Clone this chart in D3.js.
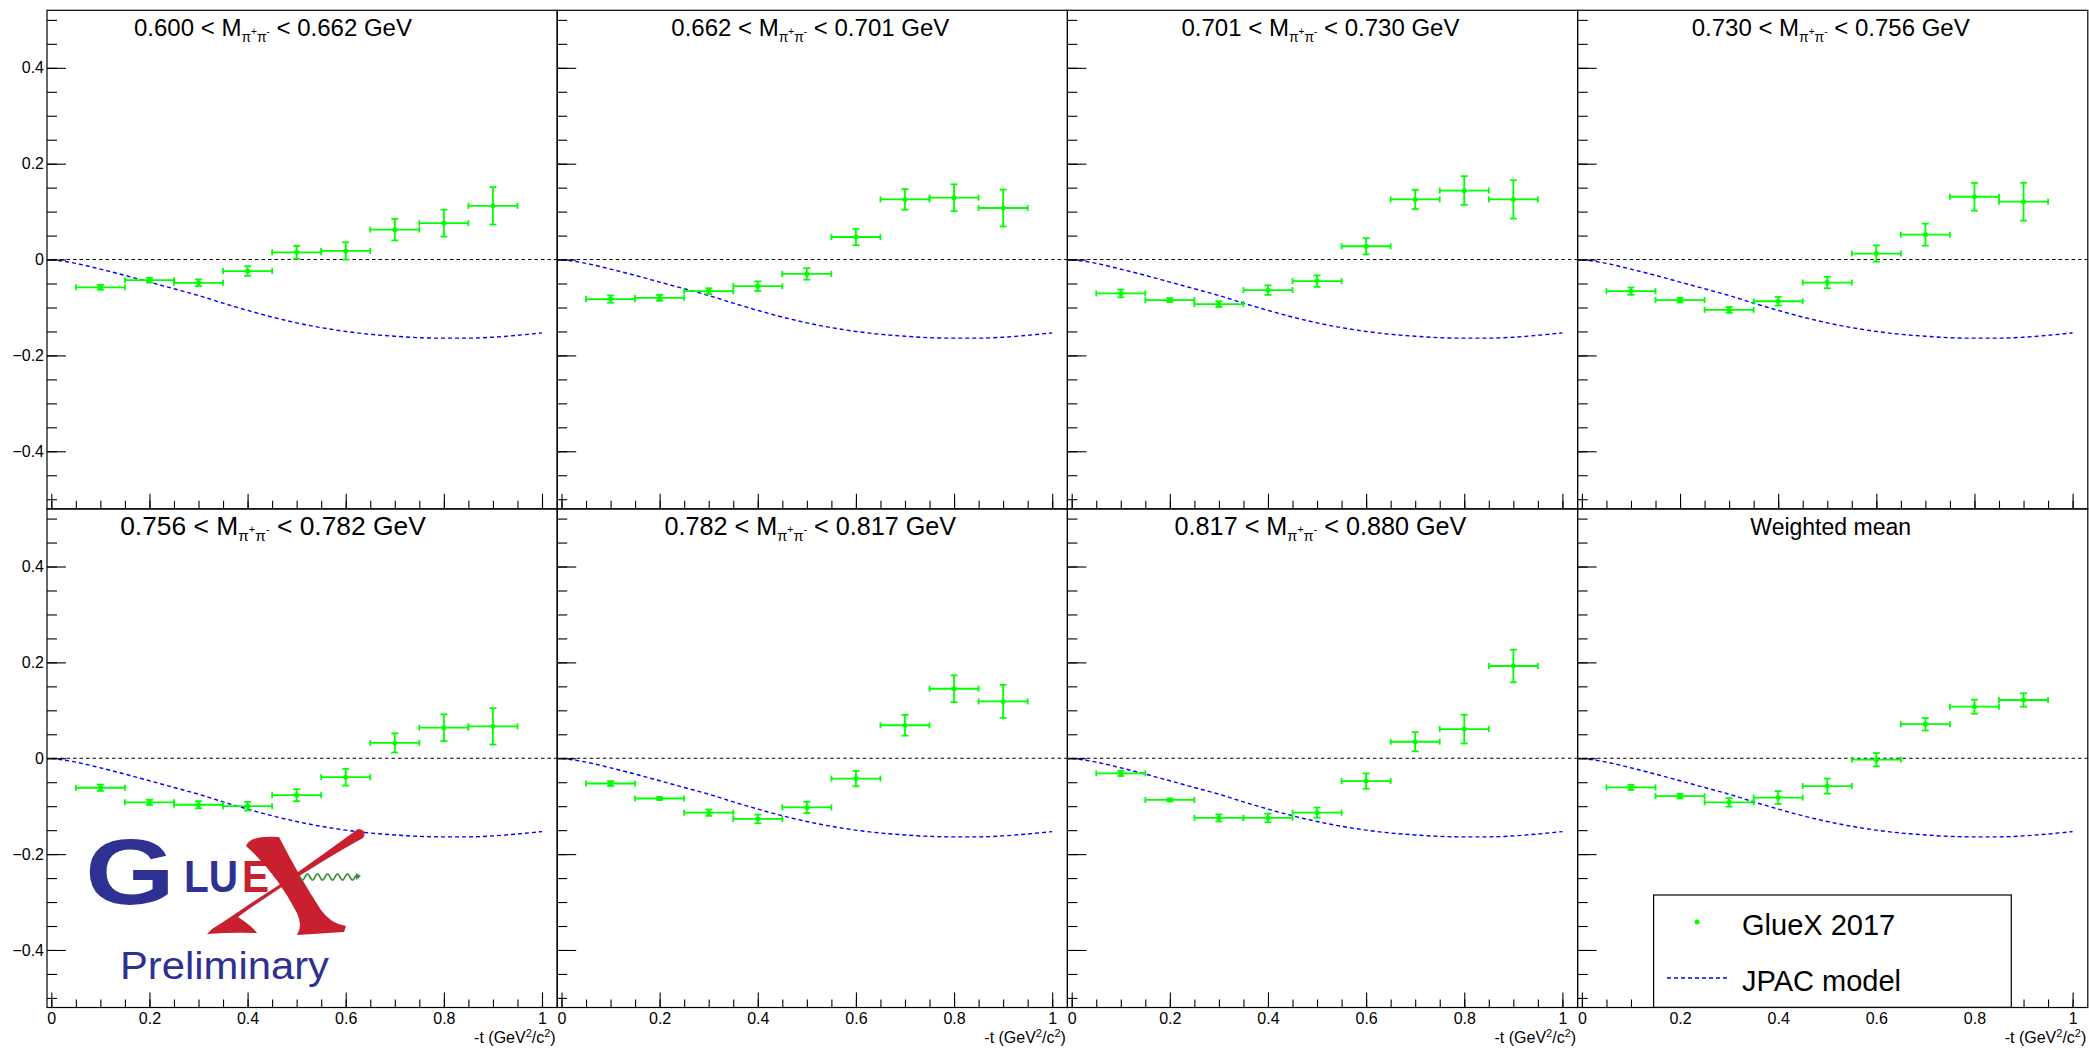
<!DOCTYPE html>
<html><head><meta charset="utf-8">
<script src="https://cdn.jsdelivr.net/npm/d3@7"></script>
<style>
html,body{margin:0;padding:0;background:#fff;}
svg{display:block;}
text{font-family:"Liberation Sans", Arial, Helvetica, sans-serif; white-space:pre;}
</style></head><body>
<svg id="chart" width="2089" height="1050"></svg>
<script>
// ---------------- DATA ----------------
const tBins = [0.1, 0.2, 0.3, 0.4, 0.5, 0.6, 0.7, 0.8, 0.9];
const tHalfWidth = 0.05;
const massLow  = ["0.600", "0.662", "0.701", "0.730", "0.756", "0.782", "0.817"];
const massHigh = ["0.662", "0.701", "0.730", "0.756", "0.782", "0.817", "0.880"];
const meanTitle = "Weighted mean";

const m0600 = [-0.058, -0.043, -0.0485, -0.024, 0.015, 0.018, 0.0624, 0.076, 0.112];
const e0600 = [0.005, 0.005, 0.007, 0.010, 0.0135, 0.018, 0.0225, 0.028, 0.039];
const m0662 = [-0.0825, -0.080, -0.066, -0.0555, -0.030, 0.047, 0.1255, 0.129, 0.1075];
const e0662 = [0.0076, 0.006, 0.006, 0.010, 0.012, 0.017, 0.0215, 0.028, 0.0385];
const m0701 = [-0.0707, -0.0846, -0.093, -0.0638, -0.045, 0.0277, 0.1255, 0.144, 0.1255];
const e0701 = [0.008, 0.004, 0.006, 0.010, 0.012, 0.017, 0.020, 0.030, 0.040];
const m0730 = [-0.066, -0.0846, -0.105, -0.087, -0.048, 0.0125, 0.052, 0.131, 0.1207];
const e0730 = [0.0076, 0.005, 0.006, 0.009, 0.012, 0.017, 0.023, 0.029, 0.0395];
const m0756 = [-0.0615, -0.092, -0.097, -0.100, -0.077, -0.0395, 0.032, 0.0637, 0.0666];
const e0756 = [0.0066, 0.0055, 0.0073, 0.009, 0.0125, 0.0175, 0.020, 0.028, 0.038];
const m0782 = [-0.0527, -0.084, -0.1135, -0.1266, -0.1025, -0.0425, 0.0688, 0.145, 0.1186];
const e0782 = [0.005, 0.003, 0.0066, 0.009, 0.0117, 0.016, 0.0216, 0.028, 0.0344];
const m0817 = [-0.0315, -0.087, -0.1245, -0.1245, -0.1135, -0.0476, 0.0344, 0.0608, 0.1925];
const e0817 = [0.0055, 0.003, 0.0073, 0.009, 0.0106, 0.016, 0.020, 0.030, 0.034];
const mMean = [-0.0608, -0.079, -0.092, -0.082, -0.058, -0.003, 0.071, 0.1076, 0.1215];
const eMean = [0.0055, 0.005, 0.0088, 0.0135, 0.0157, 0.0139, 0.013, 0.0146, 0.0139];

const jpacT   = [0, 0.05, 0.1, 0.15, 0.2, 0.25, 0.3, 0.35, 0.4, 0.45, 0.5, 0.55, 0.6, 0.65, 0.7, 0.75, 0.8, 0.85, 0.9, 0.95, 1.0];
const jpacVal = [0, -0.008, -0.020, -0.033, -0.047, -0.061, -0.075, -0.091, -0.106, -0.120, -0.132, -0.142, -0.150, -0.156, -0.160, -0.163, -0.164, -0.164, -0.162, -0.158, -0.153];

const xMajorTicks = [0, 0.2, 0.4, 0.6, 0.8, 1];
const xTickLabels = ["0", "0.2", "0.4", "0.6", "0.8", "1"];
const yMajorTicks = [-0.4, -0.2, 0, 0.2, 0.4];
const yTickLabels = ["\u22120.4", "\u22120.2", "0", "0.2", "0.4"];
const legendLabels = ["GlueX 2017", "JPAC model"];

const seriesVals = [m0600, m0662, m0701, m0730, m0756, m0782, m0817, mMean];
const seriesErrs = [e0600, e0662, e0701, e0730, e0756, e0782, e0817, eMean];

// ---------------- LAYOUT / STYLE ----------------
const svg = d3.select("#chart");
svg.append("rect").attr("width", 2089).attr("height", 1050).attr("fill", "#fff");
const frameX0 = 47, panelW = 510.2, rowTop = [10.3, 509], rowH = 498.5;
const xOff = 4.3, xUnit = 490.7;
const GREEN = "#00ff00", BLUE = "#0000ff";
const titleSizes = [24, 24, 24, 24, 26.4, 25.2, 25.2, 23];

for (let i = 0; i < 8; i++) {
  const col = i % 4, row = Math.floor(i / 4);
  const fl = frameX0 + col * panelW, ft = rowTop[row];
  const fr = fl + panelW, fb = ft + rowH;
  const x = d3.scaleLinear().domain([0, 1]).range([fl + xOff, fl + xOff + xUnit]);
  const y = d3.scaleLinear().domain([-0.52, 0.52]).range([fb, ft]);
  const g = svg.append("g");

  // zero line
  g.append("line").attr("x1", fl).attr("x2", fr).attr("y1", y(0)).attr("y2", y(0))
    .attr("stroke", "#000").attr("stroke-width", 1.1).attr("stroke-dasharray", "3.5,3");

  // JPAC model
  const line = d3.line().x(d => x(d[0])).y(d => y(d[1])).curve(d3.curveMonotoneX);
  g.append("path").datum(jpacT.map((t, k) => [t, jpacVal[k]]))
    .attr("d", line).attr("fill", "none").attr("stroke", BLUE)
    .attr("stroke-width", 1.4).attr("stroke-dasharray", "4,3");

  // data
  const vals = seriesVals[i], errs = seriesErrs[i];
  const pts = tBins.map((t, k) => ({t, v: vals[k], e: errs[k]}));
  const dg = g.append("g").attr("stroke", GREEN).attr("stroke-width", 1.8);
  pts.forEach(p => {
    const cx = x(p.t), cy = y(p.v);
    const xl = x(p.t - tHalfWidth), xr = x(p.t + tHalfWidth);
    const yt = y(p.v + p.e), yb = y(p.v - p.e);
    dg.append("line").attr("x1", xl).attr("x2", xr).attr("y1", cy).attr("y2", cy);
    dg.append("line").attr("x1", xl).attr("x2", xl).attr("y1", cy - 3).attr("y2", cy + 3);
    dg.append("line").attr("x1", xr).attr("x2", xr).attr("y1", cy - 3).attr("y2", cy + 3);
    dg.append("line").attr("x1", cx).attr("x2", cx).attr("y1", yt).attr("y2", yb);
    dg.append("line").attr("x1", cx - 3.5).attr("x2", cx + 3.5).attr("y1", yt).attr("y2", yt);
    dg.append("line").attr("x1", cx - 3.5).attr("x2", cx + 3.5).attr("y1", yb).attr("y2", yb);
    dg.append("circle").attr("cx", cx).attr("cy", cy).attr("r", 2.5).attr("fill", GREEN).attr("stroke", "none");
  });

  // frame
  g.append("rect").attr("x", fl).attr("y", ft).attr("width", panelW).attr("height", rowH)
    .attr("fill", "none").attr("stroke", "#000").attr("stroke-width", 1.2);

  // x axis
  const xMinorAxis = d3.axisBottom(x).tickValues(d3.range(0, 1.0001, 0.05)).tickSize(-8).tickFormat("");
  g.append("g").attr("transform", `translate(0,${fb})`).call(xMinorAxis)
    .call(a => a.select(".domain").remove());
  const xMajorAxis = d3.axisBottom(x).tickValues(xMajorTicks).tickSize(-15).tickPadding(5.5)
    .tickFormat((d, k) => row === 1 ? xTickLabels[k] : "");
  const xa = g.append("g").attr("transform", `translate(0,${fb})`).call(xMajorAxis);
  xa.select(".domain").remove();
  xa.selectAll("text").attr("font-size", 16).attr("fill", "#000")
    .attr("font-family", '"Liberation Sans", Arial, sans-serif');

  // y axis
  const yMinorAxis = d3.axisLeft(y).tickValues(d3.range(-0.5, 0.5001, 0.05)).tickSize(-10).tickFormat("");
  g.append("g").attr("transform", `translate(${fl},0)`).call(yMinorAxis)
    .call(a => a.select(".domain").remove());
  const yMajorAxis = d3.axisLeft(y).tickValues(yMajorTicks).tickSize(-19).tickPadding(3)
    .tickFormat((d, k) => col === 0 ? yTickLabels[k] : "");
  const ya = g.append("g").attr("transform", `translate(${fl},0)`).call(yMajorAxis);
  ya.select(".domain").remove();
  ya.selectAll("text").attr("font-size", 16).attr("fill", "#000")
    .attr("font-family", '"Liberation Sans", Arial, sans-serif');
  g.selectAll(".tick line").attr("stroke", "#000").attr("stroke-width", 1.1);

  // x axis title
  if (row === 1) {
    const xt = g.append("text").attr("x", fr - 1.5).attr("y", 1043).attr("text-anchor", "end")
      .attr("font-size", 16).attr("fill", "#000");
    xt.append("tspan").text("-t (GeV");
    xt.append("tspan").attr("font-size", 11).attr("dy", -6).text("2");
    xt.append("tspan").attr("font-size", 16).attr("dy", 6).text("/c");
    xt.append("tspan").attr("font-size", 11).attr("dy", -6).text("2");
    xt.append("tspan").attr("font-size", 16).attr("dy", 6).text(")");
  }

  // title
  const fs = titleSizes[i];
  const tcx = col === 0 ? 273 : (fl + fr) / 2 - 2;
  const tby = row === 0 ? 36 : 535;
  const tt = g.append("text").attr("x", tcx).attr("y", tby).attr("text-anchor", "middle")
    .attr("font-size", fs).attr("fill", "#000");
  if (i < 7) {
    tt.append("tspan").text(massLow[i] + " < M");
    tt.append("tspan").attr("font-size", fs * 0.58).attr("dy", fs * 0.24).text("\u03c0");
    tt.append("tspan").attr("font-size", fs * 0.42).attr("dy", -fs * 0.3).text("+");
    tt.append("tspan").attr("font-size", fs * 0.58).attr("dy", fs * 0.3).text("\u03c0");
    tt.append("tspan").attr("font-size", fs * 0.42).attr("dy", -fs * 0.3).text("-");
    tt.append("tspan").attr("font-size", fs).attr("dy", fs * 0.06).text(" < " + massHigh[i] + " GeV");
  } else {
    tt.text(meanTitle);
  }
}

// ---------------- LEGEND ----------------
const lg = svg.append("g");
lg.append("rect").attr("x", 1653.6).attr("y", 895).attr("width", 357.7).attr("height", 112.3)
  .attr("fill", "#fff").attr("stroke", "#000").attr("stroke-width", 1.2);
lg.append("circle").attr("cx", 1697).attr("cy", 922).attr("r", 2.5).attr("fill", GREEN);
lg.append("text").attr("x", 1742).attr("y", 935).attr("font-size", 29).attr("fill", "#000").text(legendLabels[0]);
lg.append("line").attr("x1", 1667).attr("x2", 1728).attr("y1", 978).attr("y2", 978)
  .attr("stroke", BLUE).attr("stroke-width", 1.4).attr("stroke-dasharray", "4,3");
lg.append("text").attr("x", 1742).attr("y", 991).attr("font-size", 29).attr("fill", "#000").text(legendLabels[1]);

// ---------------- GLUEX LOGO ----------------
const LB = "#2e3192", LR = "#c8202e";
const logo = svg.append("g");
logo.append("text").attr("x", 85).attr("y", 904).attr("font-family", '"DejaVu Sans"')
  .attr("font-weight", "bold").attr("font-size", 92).attr("textLength", 90)
  .attr("lengthAdjust", "spacingAndGlyphs").attr("fill", LB).text("G");
logo.append("text").attr("x", 184).attr("y", 892).attr("font-family", '"DejaVu Sans"')
  .attr("font-weight", "bold").attr("font-size", 44).attr("textLength", 54)
  .attr("lengthAdjust", "spacingAndGlyphs").attr("fill", LB).text("LU");
logo.append("text").attr("x", 242).attr("y", 892).attr("font-family", '"DejaVu Sans"')
  .attr("font-weight", "bold").attr("font-size", 44).attr("textLength", 27)
  .attr("lengthAdjust", "spacingAndGlyphs").attr("fill", LR).text("E");
// script X : thick stroke (top-left to bottom-right)
logo.append("path").attr("fill", LR)
  .attr("d", "M246,846 Q250,835 279,837 Q300,878 321,910 Q331,924 346,926 L344,932 L297,935 Q303,926 297,913 Q276,873 246,846 Z");
// thin stroke (top-right to bottom-left) with flared ends
logo.append("path").attr("fill", LR)
  .attr("d", "M358,829 Q340,842 322,855 L286,880.5 L249,904.5 Q228,919 212,929 L207,934 Q232,932 257,933 Q252,926 238,917 L251,907.5 L287,883.5 L325,860 Q350,845 363,838 Q368,830 358,829 Z");
// green wave
let wave = "M300,877";
for (let k = 1; k <= 56; k++) {
  wave += ` L${300 + k},${(877 + 3.2 * Math.sin(k / 10 * 2 * Math.PI)).toFixed(2)}`;
}
logo.append("path").attr("d", wave).attr("fill", "none").attr("stroke", "#3a8f3a").attr("stroke-width", 1.6);
logo.append("path").attr("d", "M356,873 L361,876 L356,880 Z").attr("fill", "#3a8f3a");
logo.append("text").attr("x", 120).attr("y", 979).attr("font-family", '"Open Sans"')
  .attr("font-size", 38).attr("textLength", 209).attr("lengthAdjust", "spacingAndGlyphs")
  .attr("fill", LB).text("Preliminary");
</script>
</body></html>
